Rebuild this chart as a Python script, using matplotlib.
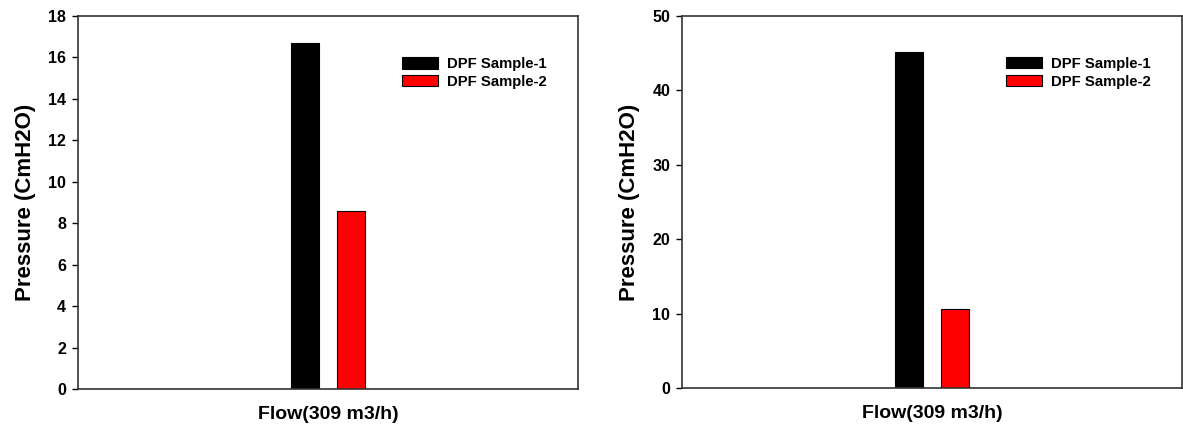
import numpy as np
import matplotlib
matplotlib.use("Agg")
import matplotlib.pyplot as plt

# values
samples = ['DPF Sample-1', 'DPF Sample-2']
colors = ['#000000', '#ff0000']
pressure_left = [16.7, 8.6]
pressure_right = [45.2, 10.6]
xlabel = 'Flow(309 m3/h)'
ylabel = 'Pressure (CmH2O)'

plt.rcParams['font.family'] = ['Liberation Sans', 'DejaVu Sans']
plt.rcParams['font.weight'] = 'bold'

fig = plt.figure(figsize=(11.83, 4.32), dpi=100)
ax1 = fig.add_axes([78 / 1183, 43 / 432, 500 / 1183, 373 / 432])
ax2 = fig.add_axes([682 / 1183, 44 / 432, 500 / 1183, 372 / 432])

offsets = [-0.0455, 0.0455]
width = 0.056


def draw(ax, values, ymax, step):
    for off, val, col, lab in zip(offsets, values, colors, samples):
        ax.bar(0 + off, val, width=width, color=col, edgecolor='black',
               linewidth=0.8, label=lab)
    ax.set_xlim(-0.5, 0.5)
    ax.set_ylim(0, ymax)
    ax.set_yticks(np.arange(0, ymax + 1, step))
    ax.set_xticks([])
    ax.tick_params(axis='y', direction='out', length=4.5, width=1,
                   labelsize=11.5, pad=4)
    for lbl in ax.get_yticklabels():
        lbl.set_fontweight('bold')
    for sp in ax.spines.values():
        sp.set_linewidth(1.2)
        sp.set_color('#333333')
    ax.set_xlabel(xlabel, fontsize=14, fontweight='bold', labelpad=12)
    ax.set_ylabel(ylabel, fontsize=16, fontweight='bold', labelpad=9)
    ax.legend(loc='upper left', bbox_to_anchor=(0.648, 0.89), frameon=False,
              handlelength=2.4, handleheight=0.8,
              handletextpad=0.6, labelspacing=0.25, borderpad=0,
              borderaxespad=0, prop={'weight': 'bold', 'size': 10.7})


draw(ax1, pressure_left, 18, 2)
draw(ax2, pressure_right, 50, 10)

fig.savefig('out.png', dpi=100)
